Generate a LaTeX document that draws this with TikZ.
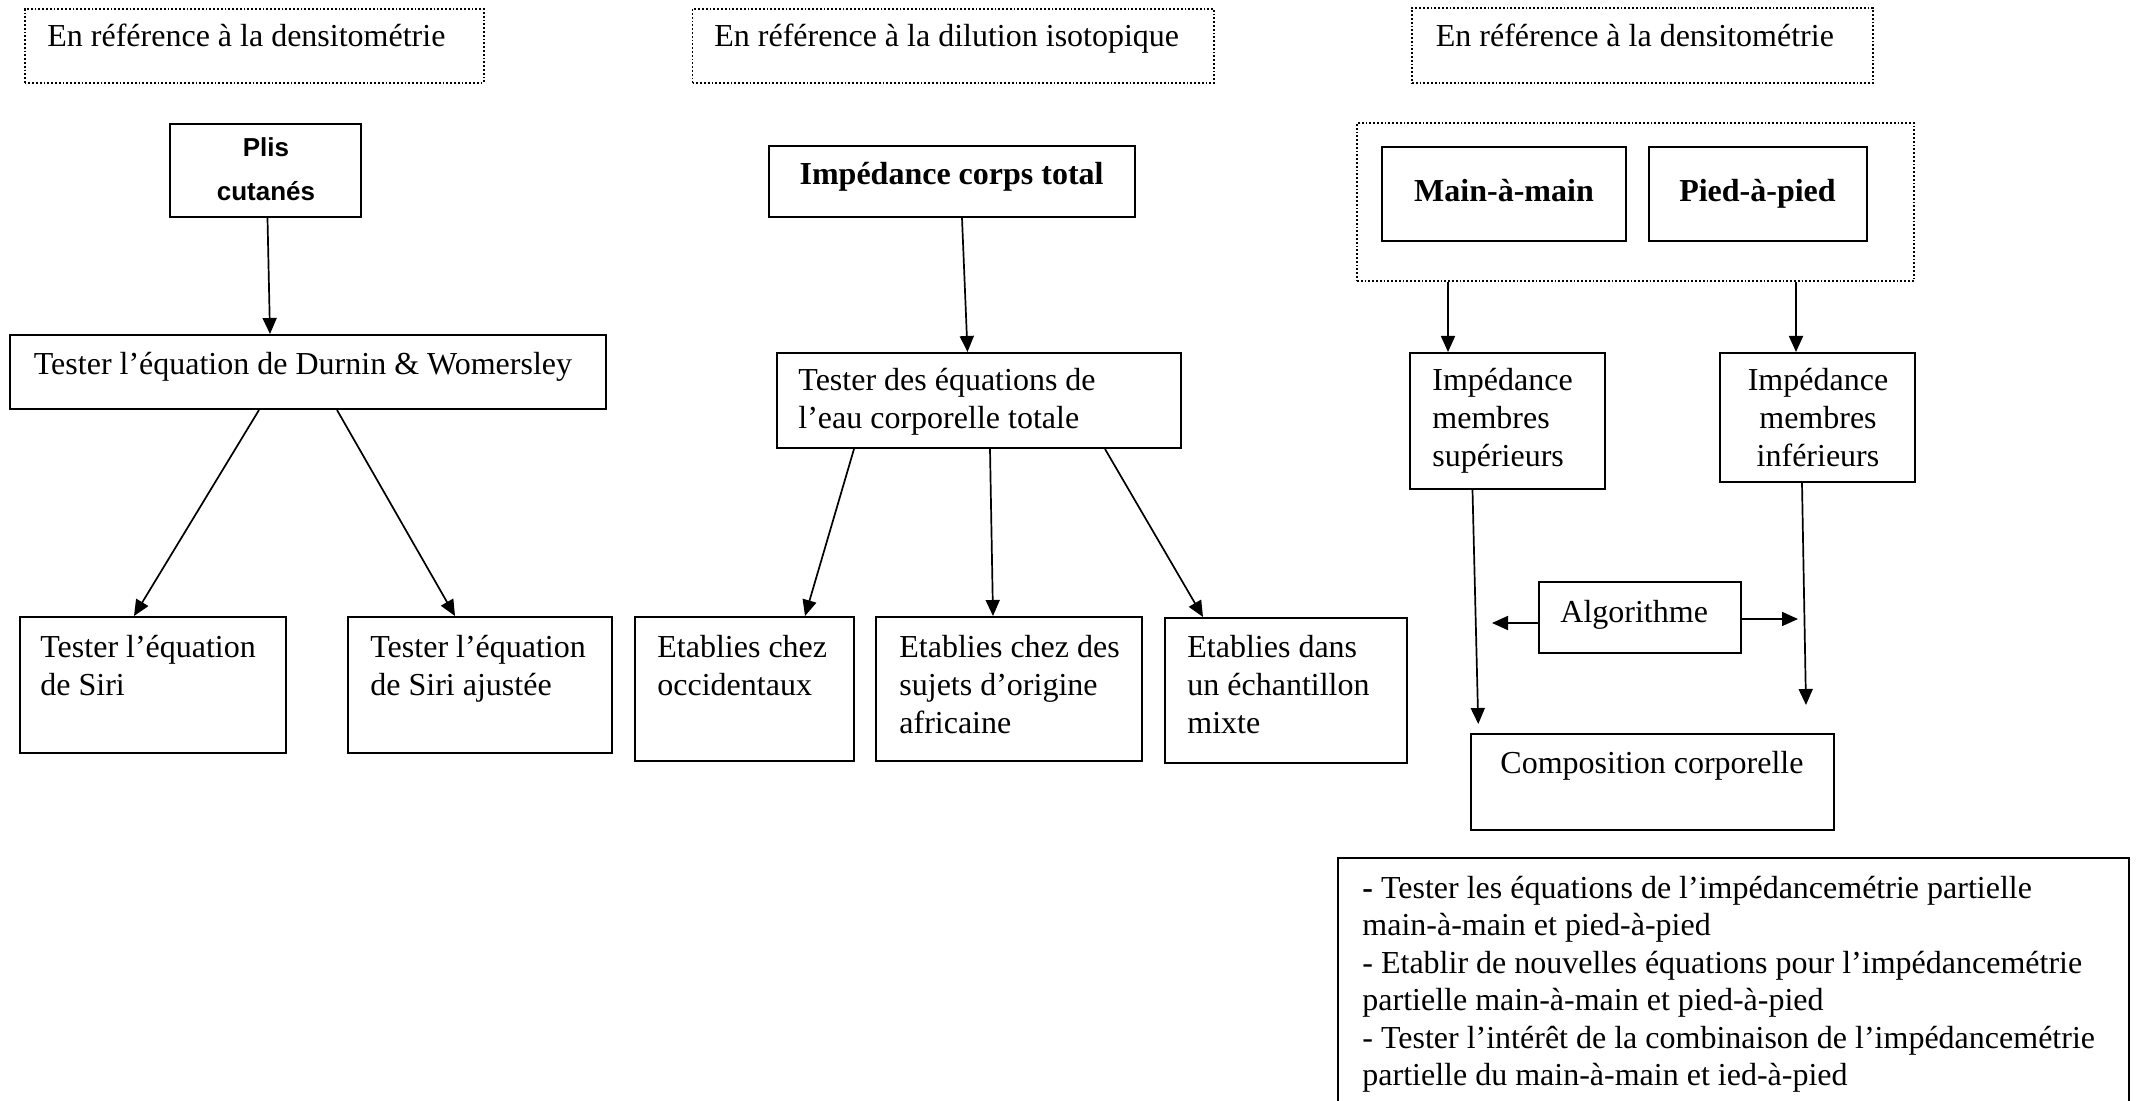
\documentclass[tikz,border=0pt]{standalone}
\usepackage{fontspec}
\setmainfont{Liberation Serif}
\newfontfamily\arialfont{Liberation Sans}
\usetikzlibrary{arrows.meta,fit}
\begin{document}
\begin{tikzpicture}[x=0.5pt,y=-0.5pt,
  box/.style={draw, line width=1pt, inner sep=0pt},
  dotbox/.style={draw, line width=0.9pt, densely dotted, inner sep=0pt},
  txt/.style={font=\fontsize{16}{19}\selectfont, inner sep=0pt, align=left},
  boldtxt/.style={font=\fontsize{16}{19}\selectfont\bfseries, inner sep=0pt},
  arr/.style={-{Triangle[length=8pt,width=7pt]}, line width=0.85pt}]
\path[use as bounding box, fill=white] (0,0) rectangle (2137,1101);

% ---------- Column 1 ----------
\node[dotbox, fit={(24.6,9.3)(484,82.7)}] (h1) {};
\node[txt, anchor=base west] (h1t) at (47,47) {En référence à la densitométrie};

\node[box, fit={(170,124)(361,217)}] (plis) {};
\node[font=\arialfont\bfseries\fontsize{13}{22}\selectfont, align=center, inner sep=0pt, anchor=north] (plist) at (266,125.2) {\strut Plis\\cutanés};

\node[box, fit={(10,335)(606,409)}] (durnin) {};
\node[txt, anchor=base west] (durnint) at (33.5,375) {Tester l’équation de Durnin \& Womersley};

\node[box, fit={(20,617)(286,753)}] (siri) {};
\node[txt, anchor=north west] (sirit) at (40,630.4) {\strut Tester l’équation\\de Siri};

\node[box, fit={(348,617)(612,753)}] (siriaj) {};
\node[txt, anchor=north west] (siriajt) at (370,630.4) {\strut Tester l’équation\\de Siri ajustée};

\draw[arr] ([xshift=1pt]plis.south) -- ([xshift=-19pt]durnin.north);
\draw[arr] ([xshift=-24.5pt]durnin.south) -- ([xshift=-9.5pt]siri.north);
\draw[arr] ([xshift=14.5pt]durnin.south) -- ([xshift=-12.5pt]siriaj.north);

% ---------- Column 2 ----------
\node[dotbox, fit={(692.5,9)(1214,83)}] (h2) {};
\node[txt, anchor=base west] (h2t) at (714,47) {En référence à la dilution isotopique};

\node[box, fit={(768.6,146)(1134.6,217)}] (ict) {};
\node[boldtxt, anchor=base] (ictt) at (951.6,185) {Impédance corps total};

\node[box, fit={(777,353)(1181,448)}] (teq) {};
\node[txt, anchor=north west] (teqt) at (798,363.4) {\strut Tester des équations de\\l’eau corporelle totale};

\node[box, fit={(635,617)(854,761)}] (occ) {};
\node[txt, anchor=north west] (occt) at (657,630.4) {\strut Etablies chez\\occidentaux};

\node[box, fit={(876,617)(1142,761)}] (suj) {};
\node[txt, anchor=north west] (sujt) at (899,630.4) {\strut Etablies chez des\\sujets d’origine\\africaine};

\node[box, fit={(1165,618)(1407,763)}] (mix) {};
\node[txt, anchor=north west] (mixt) at (1187,630.4) {\strut Etablies dans\\un échantillon\\mixte};

\draw[arr] ([xshift=5.2pt]ict.south) -- ([xshift=-5.75pt]teq.north);
\draw[arr] ([xshift=-62.5pt]teq.south) -- ([xshift=30.25pt]occ.north);
\draw[arr] ([xshift=5.5pt]teq.south) -- ([xshift=-8pt]suj.north);
\draw[arr] ([xshift=63pt]teq.south) -- ([xshift=-41.5pt]mix.north);

% ---------- Column 3 ----------
\node[dotbox, fit={(1412,8)(1873,83)}] (h3) {};
\node[txt, anchor=base west] (h3t) at (1435.5,47) {En référence à la densitométrie};

\node[dotbox, fit={(1357,123)(1914,281)}] (group) {};
\node[box, fit={(1381.5,147)(1626,241)}] (mam) {};
\node[boldtxt, anchor=base] (mamt) at (1504,202) {Main-à-main};
\node[box, fit={(1649,147)(1867,241)}] (pap) {};
\node[boldtxt, anchor=base] (papt) at (1757.5,202) {Pied-à-pied};

\node[box, fit={(1410,353)(1605,489)}] (isup) {};
\node[txt, anchor=north west] (isupt) at (1432,363.4) {\strut Impédance\\membres\\supérieurs};
\node[box, fit={(1720,353)(1915,482)}] (iinf) {};
\node[txt, align=center, anchor=north] (iinft) at (1818,363.4) {\strut Impédance\\membres\\inférieurs};

\draw[arr] ([xshift=-93.75pt]group.south) -- ([xshift=-29.75pt]isup.north);
\draw[arr] ([xshift=80.25pt]group.south) -- ([xshift=-10.75pt]iinf.north);

\node[box, fit={(1538.5,582)(1741,653)}] (algo) {};
\node[txt, anchor=base west] (algot) at (1560,622) {Algorithme};

\node[box, fit={(1470.5,734)(1834,830)}] (compo) {};
\node[txt, anchor=base west] (compot) at (1500,773) {Composition corporelle};

\coordinate (infend) at (1806,705);
\coordinate (algL) at (1492,623);
\coordinate (algR) at (1798,619);

\draw[arr] ([xshift=-17.5pt]isup.south) -- ([xshift=-87pt,yshift=4.5pt]compo.north);
\draw[arr] ([xshift=-7.75pt]iinf.south) -- (infend);
\draw[arr] ([yshift=-2.75pt]algo.west) -- (algL);
\draw[arr] ([yshift=-0.75pt]algo.east) -- (algR);

\node[box, fit={(1338,858)(2129,1104)}] (obj) {};
\node[font=\fontsize{16}{18.75}\selectfont, inner sep=0pt, align=left, anchor=north west] (objt) at (1362,871.75)
 {\strut\textbf{-} Tester les équations de l’impédancemétrie partielle\\
  main-à-main et pied-à-pied\\
  - Etablir de nouvelles équations pour l’impédancemétrie\\
  partielle main-à-main et pied-à-pied\\
  - Tester l’intérêt de la combinaison de l’impédancemétrie\\
  partielle du main-à-main et ied-à-pied};
\end{tikzpicture}
\end{document}
